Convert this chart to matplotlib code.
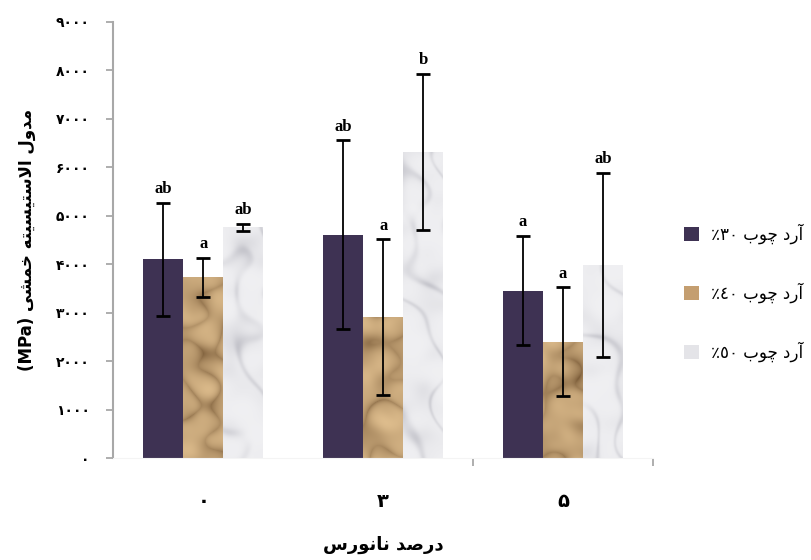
import numpy as np
import matplotlib
matplotlib.use("Agg")
import matplotlib.pyplot as plt
from matplotlib.patches import Patch

# data
categories = ["۰", "۳", "۵"]          # nanoclay percent
series_labels = ["٪٣٠", "٪٤٠", "٪٥٠"]  # wood flour percent
mean30 = [4100, 4610, 3460]
err30 = [1170, 1950, 1130]
mean40 = [3730, 2910, 2410]
err40 = [410, 1610, 1120]
mean50 = [4760, 6320, 3990]
err50 = [80, 1610, 1900]
letters30 = ["ab", "ab", "a"]
letters40 = ["a", "a", "a"]
letters50 = ["ab", "b", "ab"]
yticks = [0, 1000, 2000, 3000, 4000, 5000, 6000, 7000, 8000, 9000]

# --- small persian shaper (matplotlib has no arabic shaping / bidi) ---
FORMS = {
    "ا": ("\uFE8D", "\uFE8E", None, None),
    "آ": ("\uFE81", "\uFE82", None, None),
    "د": ("\uFEA9", "\uFEAA", None, None),
    "ر": ("\uFEAD", "\uFEAE", None, None),
    "و": ("\uFEED", "\uFEEE", None, None),
    "ب": ("\uFE8F", "\uFE90", "\uFE91", "\uFE92"),
    "ت": ("\uFE95", "\uFE96", "\uFE97", "\uFE98"),
    "چ": ("\uFB7A", "\uFB7B", "\uFB7C", "\uFB7D"),
    "خ": ("\uFEA5", "\uFEA6", "\uFEA7", "\uFEA8"),
    "س": ("\uFEB1", "\uFEB2", "\uFEB3", "\uFEB4"),
    "ش": ("\uFEB5", "\uFEB6", "\uFEB7", "\uFEB8"),
    "ص": ("\uFEB9", "\uFEBA", "\uFEBB", "\uFEBC"),
    "ل": ("\uFEDD", "\uFEDE", "\uFEDF", "\uFEE0"),
    "م": ("\uFEE1", "\uFEE2", "\uFEE3", "\uFEE4"),
    "ن": ("\uFEE5", "\uFEE6", "\uFEE7", "\uFEE8"),
    "ه": ("\uFEE9", "\uFEEA", "\uFEEB", "\uFEEC"),
    "ی": ("\uFBFC", "\uFBFD", "\uFBFE", "\uFBFF"),
}


def fa(text):
    """shape persian text and return it in visual (left to right) order"""
    toks = []
    i = 0
    while i < len(text):
        if text[i] == "ل" and i + 1 < len(text) and text[i + 1] == "ا":
            toks.append("LA")
            i += 2
        else:
            toks.append(text[i])
            i += 1

    def dual(t):
        return t in FORMS and FORMS[t][2] is not None

    def arabic(t):
        return t in FORMS or t == "LA"

    out = []
    for k, t in enumerate(toks):
        if not arabic(t):
            out.append(t)
            continue
        jp = k > 0 and dual(toks[k - 1])
        jn = dual(t) and k + 1 < len(toks) and arabic(toks[k + 1])
        if t == "LA":
            out.append("\uFEFC" if jp else "\uFEFB")
            continue
        iso, fin, ini, med = FORMS[t]
        if jp and jn:
            out.append(med)
        elif jp:
            out.append(fin)
        elif jn:
            out.append(ini)
        else:
            out.append(iso)
    return "".join(out)[::-1]


def fa_digits(n):
    return str(n).translate(str.maketrans("0123456789", "۰۱۲۳۴۵۶۷۸۹"))


# --- procedural textures for the tan (crumpled paper) and white (marble) bars ---
def wave_noise(h, w, n, f0, f1, shift=0.0):
    # sum of plane waves at golden-angle directions -> irregular pattern
    py, px = np.mgrid[0:h, 0:w].astype(float)
    v = np.zeros((h, w))
    for k in range(n):
        a = k * 2.39996 + shift
        f = f0 + (f1 - f0) * ((k * 0.618034) % 1.0)
        v += np.sin(f * (px * np.cos(a) + py * np.sin(a)) + 1.7 * k + shift) / (1 + f * 8)
    return (v - v.min()) / (v.max() - v.min())


def wood_texture(h, w):
    n1 = wave_noise(h, w, 14, 0.05, 0.35)
    ridges = 1 - np.abs(2 * wave_noise(h, w, 10, 0.04, 0.2, 0.9) - 1)
    v = 0.55 * n1 + 0.45 * (1 - ridges ** 4)
    v = (v - v.min()) / (v.max() - v.min())
    dark = np.array([0.42, 0.30, 0.17])
    light = np.array([0.89, 0.76, 0.57])
    return dark + (light - dark) * v[..., None] ** 0.55


def marble_texture(h, w):
    py, px = np.mgrid[0:h, 0:w].astype(float)
    n1 = wave_noise(h, w, 12, 0.02, 0.12, 0.4)
    v = np.sin(px / 14.0 + py / 40.0 + 7 * n1)
    veins = np.exp(-(v ** 2) / 0.08)
    blot = wave_noise(h, w, 10, 0.05, 0.25, 1.3)
    base = np.array([0.94, 0.94, 0.95])
    grey = np.array([0.64, 0.64, 0.68])
    t = np.clip(0.45 * veins * blot + 0.3 * blot ** 3, 0, 1)
    return base + (grey - base) * t[..., None]


fig = plt.figure(figsize=(8.11, 5.6), dpi=100)
ax = fig.add_axes([0.1397, 0.1813, 0.6655, 0.78])

x = np.arange(len(categories))
width = 0.2222
means = [mean30, mean40, mean50]
errs = [err30, err40, err50]
letters = [letters30, letters40, letters50]
colors = ["#3E3253", "#C49E70", "#E4E4E8"]
textures = [None, wood_texture(440, 540), marble_texture(440, 540)]

for s in range(3):
    pos = x + (s - 1) * width
    bars = ax.bar(pos, means[s], width, color=colors[s], zorder=2)
    if textures[s] is not None:
        for b in bars:
            im = ax.imshow(textures[s], extent=(-0.5, 2.5, 0, 9000), aspect="auto",
                           origin="lower", zorder=2.1, interpolation="bilinear")
            im.set_clip_path(b)
    ax.errorbar(pos, means[s], yerr=errs[s], fmt="none", ecolor="black",
                elinewidth=1.3, capsize=5, capthick=2, zorder=3)
    for xi, m, e, lt in zip(pos, means[s], errs[s], letters[s]):
        ax.annotate(lt, (xi, m + e), xytext=(0, 4), textcoords="offset points",
                    ha="center", va="bottom", fontsize=12, fontweight="bold",
                    family="Liberation Serif")

ax.set_xlim(-0.5, 2.5)
ax.set_ylim(0, 9000)
ax.set_yticks(yticks)
ax.set_yticklabels([fa_digits(v) for v in yticks], fontweight="bold", fontsize=10)
ax.set_xticks(x)
ax.set_xticklabels(categories, fontweight="bold", fontsize=14)
ax.set_xticks([1.5, 2.5], minor=True)
ax.tick_params(axis="x", which="major", length=0, pad=24)
ax.tick_params(axis="x", which="minor", length=6, color="#A8A8A8", width=1.3)
ax.tick_params(axis="y", length=5, color="#A8A8A8", width=1.3, pad=12)

for side in ["top", "right"]:
    ax.spines[side].set_visible(False)
ax.spines["left"].set_color("#A8A8A8")
ax.spines["left"].set_linewidth(1.5)
ax.spines["bottom"].set_color("#F4F4F4")

ax.set_xlabel(fa("درصد نانورس"), fontsize=13, fontweight="bold", labelpad=18)
ax.set_ylabel("(MPa) " + fa("مدول الاستیسیته خمشی"), fontsize=12,
              fontweight="bold", labelpad=14)

handles = [Patch(facecolor=c) for c in colors]
labels = [lab + " " + fa("آرد چوب") for lab in series_labels]
fig.legend(handles, labels, loc="center left", bbox_to_anchor=(0.825, 0.477),
           frameon=False, fontsize=12, labelspacing=2.3, handlelength=0.9,
           handleheight=0.9, handletextpad=0.7)

fig.savefig("out.png", dpi=100)
